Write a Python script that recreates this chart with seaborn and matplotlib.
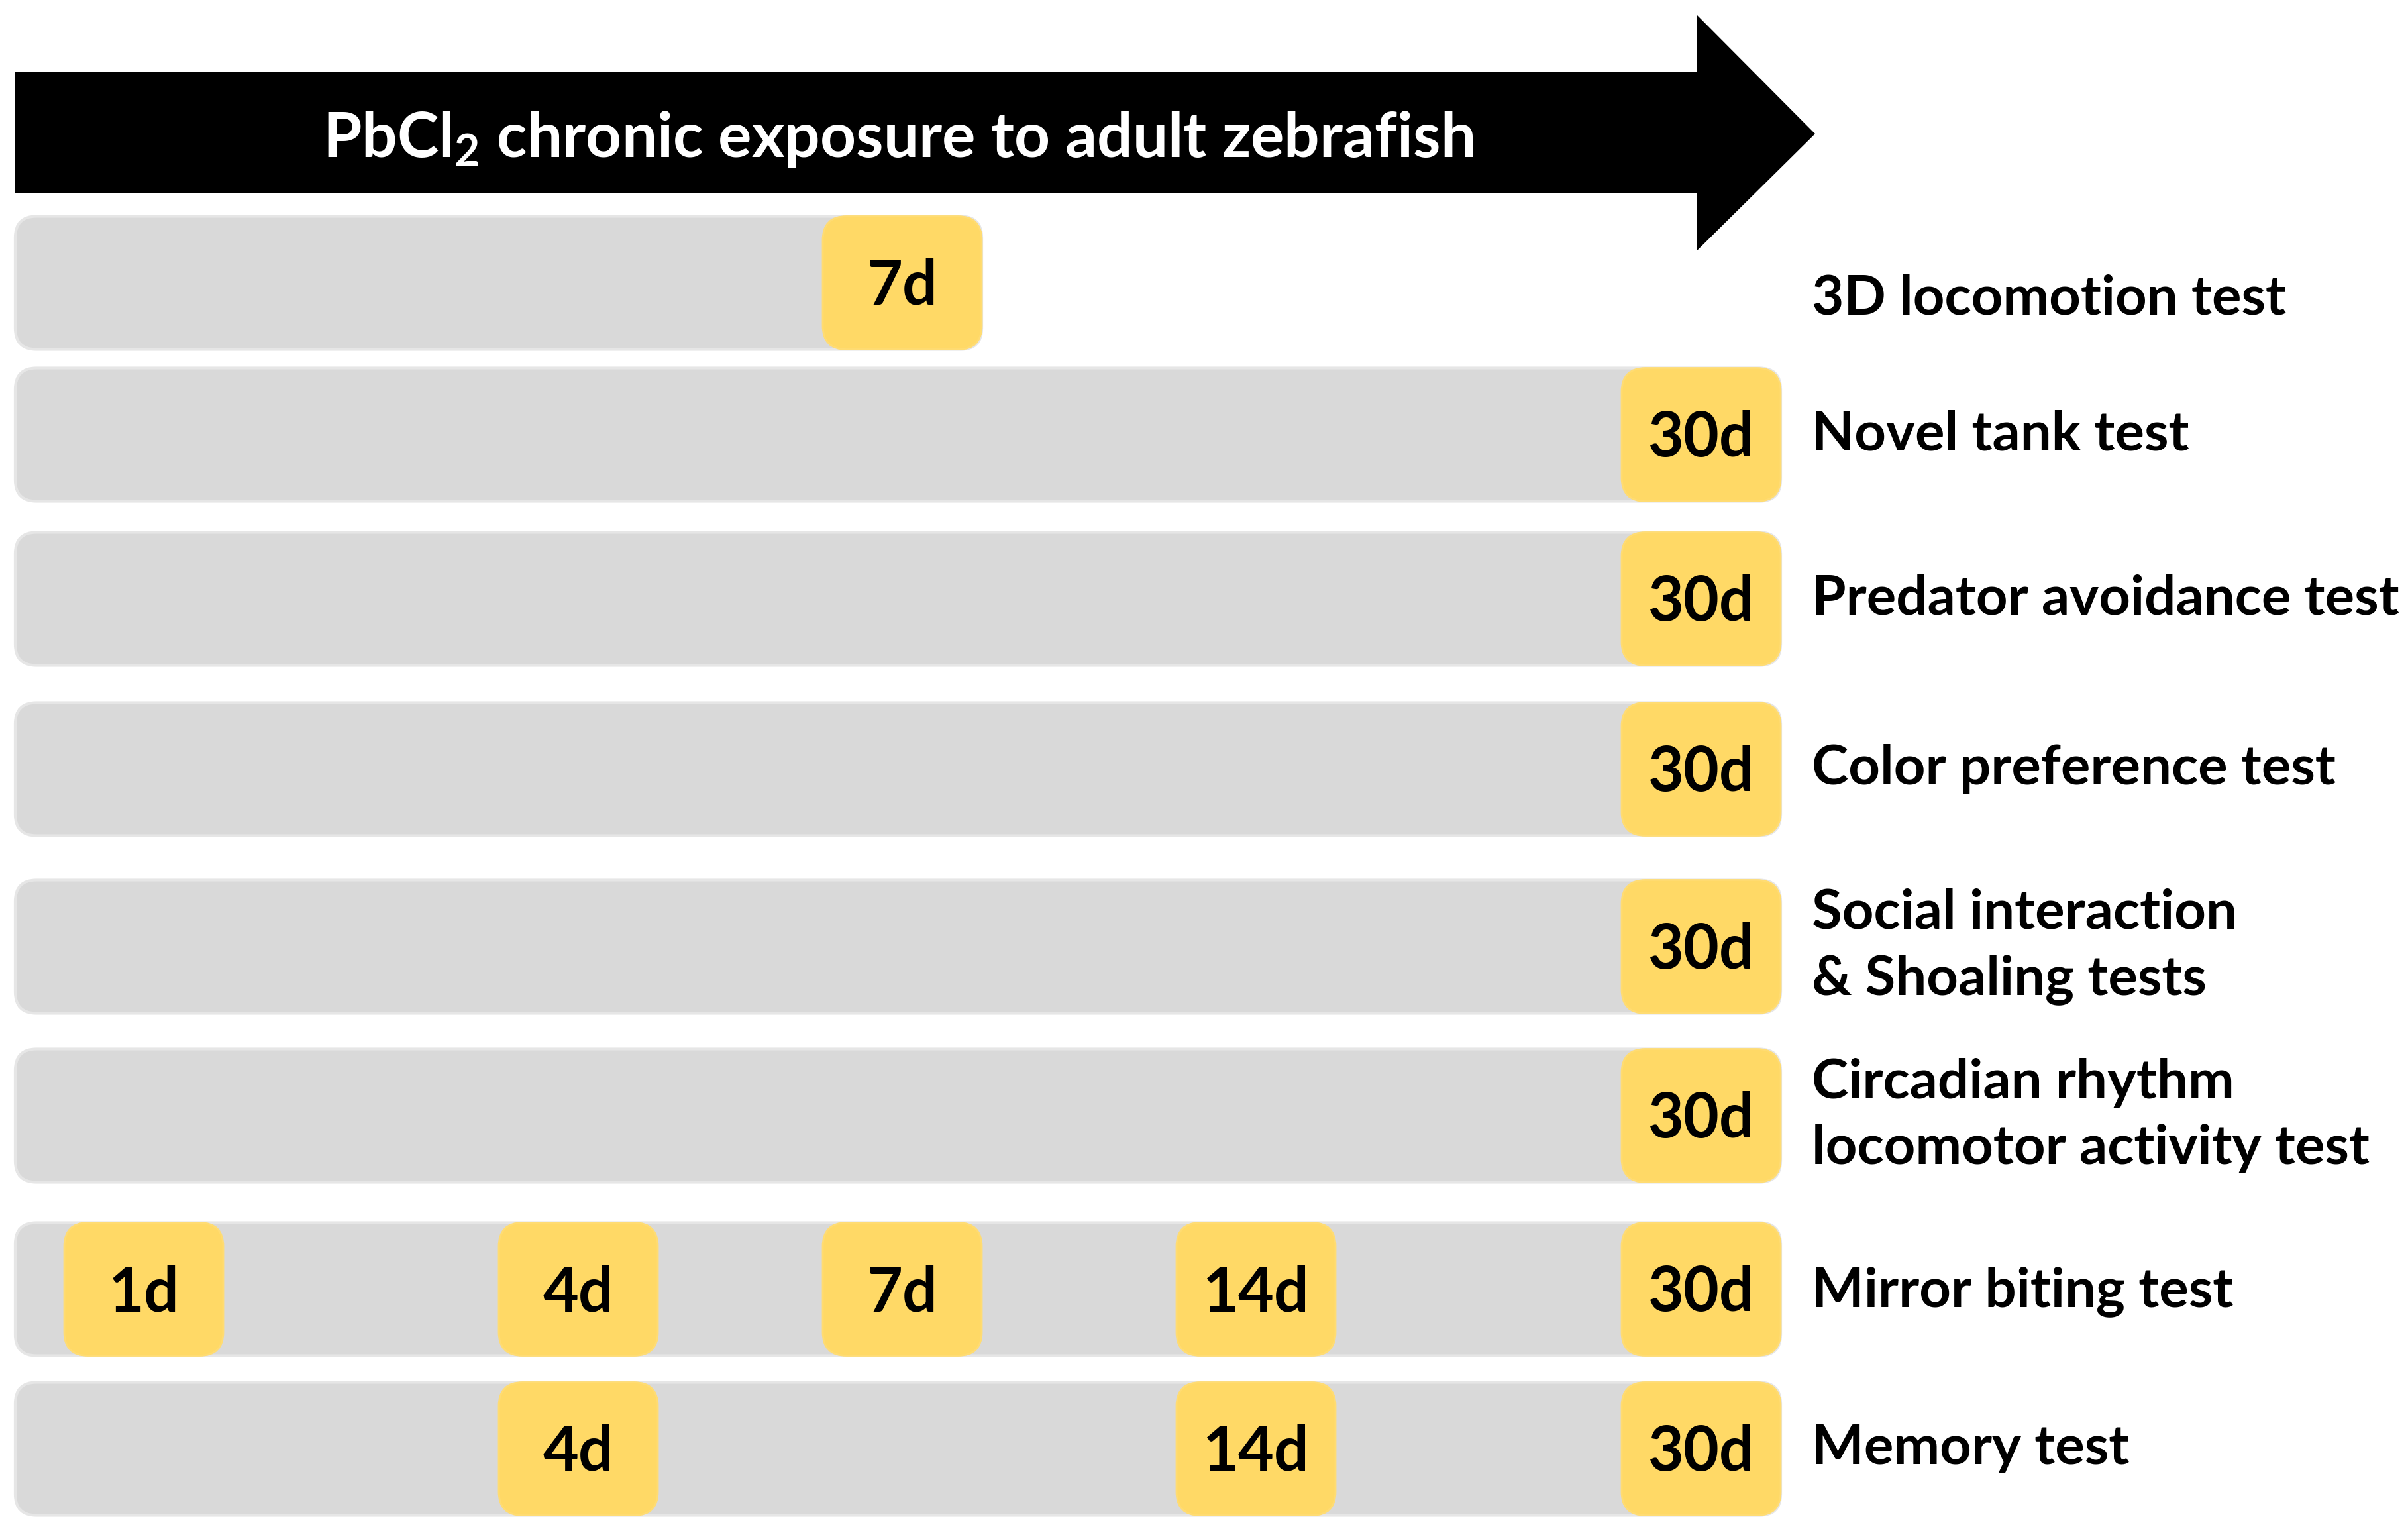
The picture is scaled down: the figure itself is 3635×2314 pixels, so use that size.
import matplotlib
matplotlib.use("Agg")
import matplotlib.pyplot as plt
from matplotlib.patches import FancyBboxPatch, Polygon
import seaborn as sns

# ---------------- data ----------------
TITLE = "PbCl$_2$ chronic exposure to adult zebrafish"
tests = [
    "3D locomotion test",
    "Novel tank test",
    "Predator avoidance test",
    "Color preference test",
    "Social interaction\n& Shoaling tests",
    "Circadian rhythm\nlocomotor activity test",
    "Mirror biting test",
    "Memory test",
]
timepoints = [
    [7],
    [30],
    [30],
    [30],
    [30],
    [30],
    [1, 4, 7, 14, 30],
    [4, 14, 30],
]

# ---------------- layout (pixel canvas) ----------------
W, H = 3635, 2314
SLOT_LEFT = {1: 97, 4: 753, 7: 1242, 14: 1776, 30: 2448}
SLOT_W = 240
ROW_CENTER = [427, 656, 904, 1161, 1429, 1684, 1946, 2187]
LABEL_DY = [24, 0, 0, 0, 0, 0, 4, 0]
ROW_H = 201
BAR_LEFT = 23
LABEL_X = 2735
GRAY = "#D9D9D9"
YELLOW = "#FFD966"

sns.set_theme(style="white")
plt.rcParams["font.family"] = ["Lato", "DejaVu Sans"]
plt.rcParams["font.weight"] = "bold"
plt.rcParams["mathtext.fontset"] = "custom"
plt.rcParams["mathtext.rm"] = "Lato:bold"
plt.rcParams["mathtext.it"] = "Lato:bold"
plt.rcParams["mathtext.bf"] = "Lato:bold"
plt.rcParams["mathtext.default"] = "rm"

fig = plt.figure(figsize=(W / 100, H / 100), dpi=100)
fig.patch.set_facecolor("white")
ax = fig.add_axes([0, 0, 1, 1])
ax.set_xlim(0, W)
ax.set_ylim(H, 0)
ax.axis("off")

# arrow
arrow = Polygon(
    [(23, 109), (2562, 109), (2562, 23), (2740, 202), (2562, 378), (2562, 292), (23, 292)],
    closed=True, facecolor="black", edgecolor="none")
ax.add_patch(arrow)
ax.text(1356, 210, TITLE, color="white", fontsize=68, fontweight="bold",
        ha="center", va="center")

for name, tps, yc, dy in zip(tests, timepoints, ROW_CENTER, LABEL_DY):
    end = SLOT_LEFT[max(tps)] + SLOT_W
    top = yc - ROW_H / 2
    bar = FancyBboxPatch((BAR_LEFT, top), end - BAR_LEFT, ROW_H,
                         boxstyle="round,pad=0,rounding_size=32",
                         facecolor=GRAY, edgecolor="#E6E6E6", linewidth=3, zorder=1)
    ax.add_patch(bar)
    for d in tps:
        x0 = SLOT_LEFT[d]
        box = FancyBboxPatch((x0, top), SLOT_W, ROW_H,
                             boxstyle="round,pad=0,rounding_size=36",
                             facecolor=YELLOW, edgecolor="#FFDC73", linewidth=2, zorder=2)
        ax.add_patch(box)
        ax.text(x0 + SLOT_W / 2, yc + 6, f"{d}d", fontsize=67, fontweight="bold",
                color="black", ha="center", va="center", zorder=3)
    ax.text(LABEL_X, yc + dy, name, fontsize=60, fontweight="bold", color="black",
            ha="left", va="center", linespacing=1.4, zorder=3)

fig.savefig("out.png", dpi=100, facecolor="white")
